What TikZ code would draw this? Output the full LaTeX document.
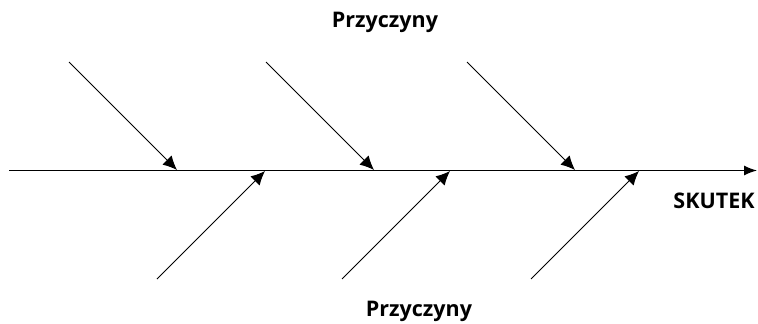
\documentclass[tikz,border=0pt]{standalone}
\usepackage{fontspec}
\setmainfont{Open Sans}
\usepackage{tikz}
\usetikzlibrary{arrows.meta}

\begin{document}
\begin{tikzpicture}[x=1pt, y=-1pt,
  spine/.style={-{Latex[length=13pt,width=10pt]}, line width=1.2pt},
  bone/.style={-{Latex[length=14pt,width=13pt]}, line width=1pt},
  causetext/.style={font=\bfseries\fontsize{21.5}{24}\selectfont, inner sep=0pt}]
  \useasboundingbox (0,0) rectangle (758,324);
  % Spine
  \coordinate (tail) at (9,170.5);
  \coordinate (head) at (757,170.5);
  \draw[spine] (tail) -- (head);
  % Upper causes
  \foreach \i/\x in {1/69,2/266,3/467} {
    \coordinate (u\i) at (\x,62);
    \coordinate (ue\i) at (\x+108,170);
    \draw[bone] (u\i) -- (ue\i);
  }
  % Lower causes
  \foreach \i/\x in {1/157,2/342,3/531} {
    \coordinate (l\i) at (\x,279);
    \coordinate (le\i) at (\x+108,171);
    \draw[bone] (l\i) -- (le\i);
  }
  % Labels
  \node[causetext] (top) at (385,22.5) {Przyczyny};
  \node[causetext] (bottom) at (419,311) {Przyczyny};
  \node[causetext] (effect) at (714,200.5) {SKUTEK};
\end{tikzpicture}
\end{document}
